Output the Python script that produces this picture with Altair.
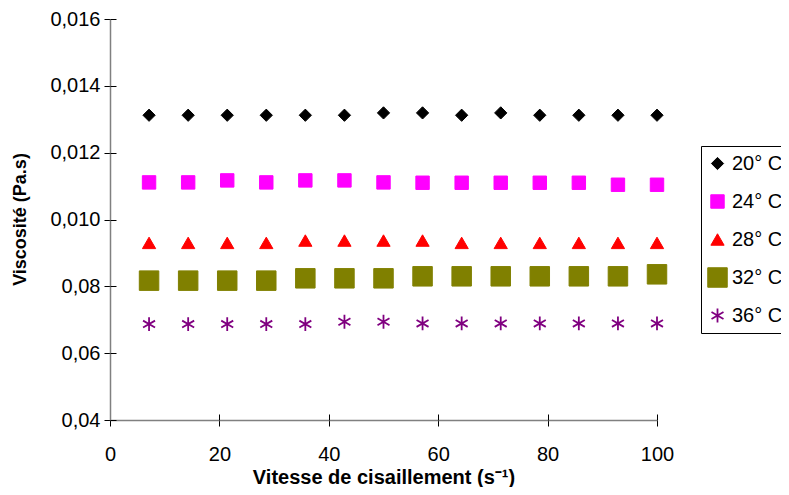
import altair as alt
import pandas as pd

# ---- data ----
shear_rate = [7.14, 14.29, 21.43, 28.57, 35.71, 42.86, 50.0,
              57.14, 64.29, 71.43, 78.57, 85.71, 92.86, 100.0]
series_names = ["20° C", "24° C", "28° C", "32° C", "36° C"]
visc_20 = [0.01312, 0.01312, 0.01312, 0.01312, 0.01312, 0.01312, 0.01319,
           0.01319, 0.01312, 0.01319, 0.01312, 0.01312, 0.01312, 0.01312]
visc_24 = [0.01111, 0.01111, 0.01117, 0.01111, 0.01117, 0.01117, 0.01111,
           0.01110, 0.01110, 0.01110, 0.01110, 0.01110, 0.01104, 0.01104]
visc_28 = [0.00930, 0.00930, 0.00930, 0.00930, 0.00937, 0.00937, 0.00937,
           0.00937, 0.00930, 0.00930, 0.00930, 0.00930, 0.00930, 0.00930]
visc_32 = [0.00817, 0.00817, 0.00817, 0.00817, 0.00824, 0.00824, 0.00824,
           0.00830, 0.00830, 0.00830, 0.00830, 0.00830, 0.00830, 0.00836]
visc_36 = [0.00687, 0.00687, 0.00687, 0.00687, 0.00687, 0.00694, 0.00694,
           0.00689, 0.00689, 0.00689, 0.00689, 0.00689, 0.00689, 0.00689]

x_tick_values = [0, 20, 40, 60, 80, 100]
y_tick_values = [0.004, 0.006, 0.008, 0.010, 0.012, 0.014, 0.016]
y_tick_labels = ["0,04", "0,06", "0,08", "0,010", "0,012", "0,014", "0,016"]

colors = ["#000000", "#FF00FF", "#FF0000", "#808000", "#800080"]
shapes = ["diamond", "square", "triangle-up", "square",
          "M0,-1L0,1M-0.87,-0.5L0.87,0.5M-0.87,0.5L0.87,-0.5"]
sizes = [150, 180, 175, 380, 190]
stroke_widths = [1, 1, 1, 1, 1.8]

# ---- build table ----
rows = []
for name, vals in zip(series_names, [visc_20, visc_24, visc_28, visc_32, visc_36]):
    for xv, yv in zip(shear_rate, vals):
        rows.append({"x": xv, "y": yv, "serie": name})
df = pd.DataFrame(rows)

label_array = "[" + ",".join("'" + s + "'" for s in y_tick_labels) + "]"
label_expr = f"{label_array}[round((datum.value - {y_tick_values[0]}) / {y_tick_values[1] - y_tick_values[0]})]"

FONT = "Liberation Sans"

legend = alt.Legend(
    title=None, orient="none", legendX=591, legendY=127,
    strokeColor="#000000", fillColor="#FFFFFF",
    padding=6, labelFontSize=20, labelFont=FONT, labelColor="#000000",
    labelOffset=4, rowPadding=15, clipHeight=23,
)

scale_color = alt.Scale(domain=series_names, range=colors)
x_scale = alt.Scale(domain=[0, 100], nice=False, zero=False)
y_scale = alt.Scale(domain=[0.004, 0.016], nice=False, zero=False)

points = alt.Chart(df).mark_point(filled=True, opacity=1).encode(
    x=alt.X("x:Q", scale=x_scale,
            axis=alt.Axis(values=x_tick_values, title="Vitesse de cisaillement (s⁻¹)",
                          labelPadding=18, labelFlush=False, orient="bottom",
                          titleY=57, titleBaseline="middle", titleFontSize=20)),
    y=alt.Y("y:Q", scale=y_scale,
            axis=alt.Axis(values=y_tick_values, labelExpr=label_expr, labelFlush=False,
                          title="Viscosité (Pa.s)", labelPadding=4, orient="left",
                          titleX=-90, titleY=200, titleBaseline="middle",
                          titleAlign="center", titleFontSize=18)),
    color=alt.Color("serie:N", scale=scale_color, legend=legend),
    stroke=alt.Stroke("serie:N", scale=scale_color, legend=legend),
    shape=alt.Shape("serie:N", scale=alt.Scale(domain=series_names, range=shapes), legend=legend),
    size=alt.Size("serie:N", scale=alt.Scale(type="ordinal", domain=series_names, range=sizes), legend=legend),
    strokeWidth=alt.StrokeWidth("serie:N", scale=alt.Scale(type="ordinal", domain=series_names, range=stroke_widths), legend=legend),
)

# inner half of the crossing tick marks (Excel style "cross" ticks)
inner_ticks = alt.Chart(df).mark_point(opacity=0).encode(
    x=alt.X("x:Q", scale=x_scale,
            axis=alt.Axis(values=x_tick_values, orient="bottom", offset=-6, labels=False,
                          domain=False, title=None, tickSize=6)),
    y=alt.Y("y:Q", scale=y_scale,
            axis=alt.Axis(values=y_tick_values, orient="left", offset=-6, labels=False,
                          domain=False, title=None, tickSize=6)),
)

chart = alt.layer(points, inner_ticks).resolve_axis(
    x="independent", y="independent"
).properties(
    width=547, height=401,
    autosize=alt.AutoSizeParams(type="none"),
    padding={"left": 102, "top": 11, "right": 124, "bottom": 67},
).configure_view(stroke=None).configure_legend(
    strokeWidth=1,
).configure_axis(
    grid=False, domainColor="#808080", domainWidth=1.5,
    tickColor="#000000", tickSize=6, tickWidth=1,
    labelFont=FONT, labelFontSize=20, labelColor="#000000",
    titleFont=FONT, titleFontSize=20, titleFontWeight="bold", titleColor="#000000",
)

chart.save("out.html", embed_options={"renderer": "svg", "actions": False})
